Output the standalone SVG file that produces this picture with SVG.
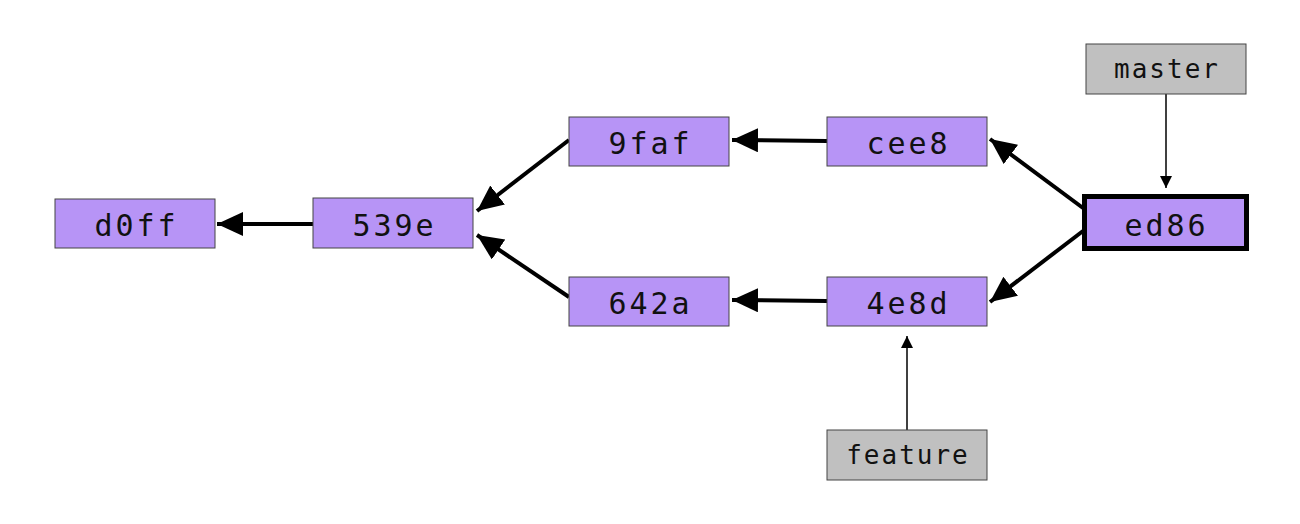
<svg xmlns="http://www.w3.org/2000/svg" width="1300" height="524" viewBox="0 0 1300 524">
<style>
.c{fill:#b794f6;stroke:#444;stroke-width:1}
.r{fill:#c0c0c0;stroke:#444;stroke-width:1}
.h{fill:#b794f6;stroke:#000;stroke-width:5}
text{font-family:"DejaVu Sans Mono","Liberation Mono",monospace;font-size:30px;letter-spacing:3px;fill:#111;text-anchor:middle;dominant-baseline:central}
.ref text{font-size:26px;letter-spacing:2px}
.e{stroke:#000;stroke-width:4;fill:none;marker-end:url(#a)}
.t{stroke:#000;stroke-width:1.5;fill:none;marker-end:url(#b)}
</style>
<defs>
<marker id="a" markerUnits="userSpaceOnUse" markerWidth="28" markerHeight="26" refX="26" refY="12" orient="auto"><path d="M0,0 L26,12 L0,24 Z" fill="#000"/></marker>
<marker id="b" markerUnits="userSpaceOnUse" markerWidth="14" markerHeight="14" refX="12" refY="6" orient="auto"><path d="M0,0 L12,6 L0,12 Z" fill="#000"/></marker>
</defs>
<g id="connectors">
<line class="e" x1="313" y1="224" x2="217" y2="224"/>
<line class="e" x1="569" y1="140" x2="477" y2="211"/>
<line class="e" x1="569" y1="297" x2="477" y2="235"/>
<line class="e" x1="827" y1="141" x2="732" y2="140"/>
<line class="e" x1="827" y1="301" x2="732" y2="300"/>
<line class="e" x1="1083" y1="208" x2="990" y2="139"/>
<line class="e" x1="1083" y1="231" x2="990" y2="302"/>
<line class="t" x1="1166" y1="94" x2="1166" y2="188"/>
<line class="t" x1="907" y1="430" x2="907" y2="336"/>
</g>
<g id="d0ff"><rect class="c" x="55" y="199" width="160" height="49"/><text x="136.5" y="225">d0ff</text></g>
<g id="539e"><rect class="c" x="313" y="198" width="160" height="50"/><text x="394.5" y="225">539e</text></g>
<g id="9faf"><rect class="c" x="569" y="117" width="160" height="49"/><text x="650.5" y="143">9faf</text></g>
<g id="cee8"><rect class="c" x="827" y="117" width="160" height="49"/><text x="908.5" y="143">cee8</text></g>
<g id="642a"><rect class="c" x="569" y="277" width="160" height="49"/><text x="650.5" y="303">642a</text></g>
<g id="4e8d"><rect class="c" x="827" y="277" width="160" height="49"/><text x="908.5" y="303">4e8d</text></g>
<g id="ed86"><rect class="h" x="1084.5" y="196.5" width="162" height="52"/><text x="1166.5" y="225">ed86</text></g>
<g id="master" class="ref"><rect class="r" x="1086" y="44" width="160" height="50"/><text x="1167" y="69">master</text></g>
<g id="feature" class="ref"><rect class="r" x="827" y="430" width="160" height="50"/><text x="908" y="455">feature</text></g>
</svg>
